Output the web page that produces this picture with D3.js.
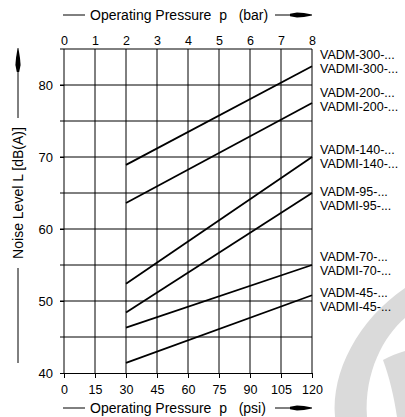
<!DOCTYPE html>
<html><head><meta charset="utf-8">
<script src="https://cdn.jsdelivr.net/npm/d3@7"></script>
<style>body{margin:0;background:#fff}svg{display:block}text{font-family:"Liberation Sans",Arial,sans-serif;fill:#000}</style>
</head><body>
<script>
const series = ["300","200","140","95","70","45"];
const startBar = [2,2,2,2,2,2];
const endBar = [8,8,8,8,8,8];
const startDb = [68.9,63.6,52.4,48.4,46.3,41.4];
const endDb = [82.6,77.5,70.0,65.0,55.0,50.8];
const labelDb = [83.3,78.0,70.1,64.2,55.2,50.2];
const barTicks = [0,1,2,3,4,5,6,7,8];
const psiTicks = [0,15,30,45,60,75,90,105,120];
const dbTicks = [40,50,60,70,80];
const gridDb = [45,50,55,60,65,70,75,80,85];
const titleTop = "Operating Pressure\u00a0\u00a0p\u00a0\u00a0\u00a0(bar)";
const titleBottom = "Operating Pressure\u00a0\u00a0p\u00a0\u00a0\u00a0(psi)";
const titleY = "Noise Level L [dB(A)]";

(function(){
const W=405,H=417;
const svg=d3.select("body").append("svg").attr("width",W).attr("height",H);
svg.append("rect").attr("width",W).attr("height",H).attr("fill","#fff");

// watermark (light grey logo fragment)
svg.append("path").attr("d","M335,417 C331,372 358,320 405,288 L405,318 C384,336 364,372 367,417 Z").attr("fill","#dadada");
svg.append("path").attr("d","M383,360 C390,356 398,353 405,351 L405,417 L397,417 C394,396 389,376 383,360 Z").attr("fill","#dadada");

const xBar=d3.scaleLinear().domain([0,8]).range([64,312]);
const xPsi=d3.scaleLinear().domain([0,120]).range([64,312]);
const y=d3.scaleLinear().domain([40,85]).range([373,49]);
const fs="12.5px";

const g=svg.append("g");
g.selectAll("line.h").data(gridDb).join("line")
  .attr("x1",60).attr("x2",xBar(8)).attr("y1",d=>y(d)).attr("y2",d=>y(d))
  .attr("stroke","#000").attr("stroke-width",1);
g.selectAll("line.v").data(barTicks).join("line")
  .attr("x1",d=>xBar(d)).attr("x2",d=>xBar(d)).attr("y1",y(85)).attr("y2",y(40))
  .attr("stroke","#000").attr("stroke-width",1);

const topAx=svg.append("g").attr("transform",`translate(0,${y(85)})`)
  .call(d3.axisTop(xBar).tickValues(barTicks).tickSize(0).tickPadding(4).tickFormat(d3.format("d")));
topAx.select(".domain").remove();
topAx.selectAll("text").style("font-size",fs).attr("fill","#000");

const botAx=svg.append("g").attr("transform",`translate(0,${y(40)})`)
  .call(d3.axisBottom(xPsi).tickValues(psiTicks).tickSize(5).tickPadding(7).tickFormat(d3.format("d")));
botAx.selectAll("line").attr("stroke","#000");
botAx.select(".domain").attr("stroke","#000");
botAx.selectAll("text").style("font-size",fs).attr("fill","#000");

const leftAx=svg.append("g").attr("transform",`translate(${xBar(0)},0)`)
  .call(d3.axisLeft(y).tickValues(dbTicks).tickSize(4).tickPadding(7).tickFormat(d3.format("d")));
leftAx.select(".domain").remove();
leftAx.selectAll("line").attr("stroke","#000");
leftAx.selectAll("text").style("font-size","13px").attr("fill","#000");

const lines=series.map((s,i)=>({s,pts:[[startBar[i],startDb[i]],[endBar[i],endDb[i]]],lab:labelDb[i]}));
const lineGen=d3.line().x(d=>xBar(d[0])).y(d=>y(d[1]));
svg.selectAll("path.ser").data(lines).join("path").attr("class","ser")
  .attr("d",d=>lineGen(d.pts)).attr("fill","none").attr("stroke","#000").attr("stroke-width",1.8);

const lg=svg.selectAll("g.lab").data(lines).join("g").attr("class","lab")
  .attr("transform",d=>`translate(${xBar(8)+8},${y(d.lab)})`);
lg.append("text").attr("y",-7).attr("dy","0.35em").style("font-size",fs).text(d=>`VADM-${d.s}-...`);
lg.append("text").attr("y",7).attr("dy","0.35em").style("font-size",fs).text(d=>`VADMI-${d.s}-...`);

function arrowH(yc,text){
  svg.append("line").attr("x1",63).attr("x2",85).attr("y1",yc).attr("y2",yc).attr("stroke","#000");
  svg.append("text").attr("x",90).attr("y",yc).attr("dy","0.35em").style("font-size","14px").text(text);
  svg.append("line").attr("x1",275).attr("x2",292).attr("y1",yc).attr("y2",yc).attr("stroke","#000");
  svg.append("path").attr("d",`M290,${yc-1.2} L297,${yc-2.6} L304,${yc-2} L312,${yc-0.4} L312,${yc+0.4} L304,${yc+2} L297,${yc+2.6} L290,${yc+1.2} Z`).attr("fill","#000");
}
arrowH(15,titleTop);
arrowH(408,titleBottom);

const vx=18;
svg.append("line").attr("x1",vx).attr("x2",vx).attr("y1",363).attr("y2",268).attr("stroke","#000");
svg.append("text").attr("transform",`translate(${vx},193) rotate(-90)`).attr("dy","0.35em").attr("text-anchor","middle").style("font-size","14px").text(titleY);
svg.append("line").attr("x1",vx).attr("x2",vx).attr("y1",118).attr("y2",70).attr("stroke","#000");
svg.append("path").attr("d",`M${vx-1.2},72 L${vx-2.6},65 L${vx-2},58 L${vx-0.4},48 L${vx+0.4},48 L${vx+2},58 L${vx+2.6},65 L${vx+1.2},72 Z`).attr("fill","#000");
})();
</script>
</body></html>
